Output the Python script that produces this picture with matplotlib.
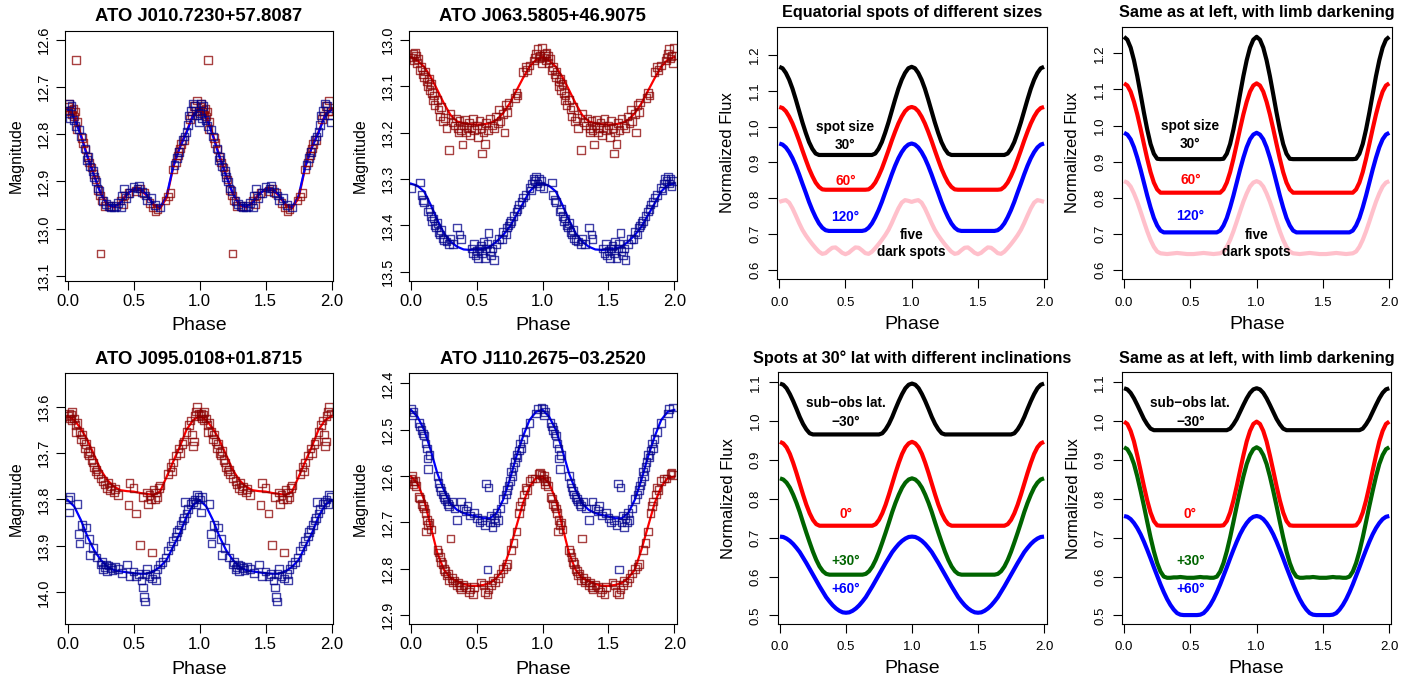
import numpy as np
import matplotlib
matplotlib.use("Agg")
import matplotlib.pyplot as plt

plt.rcParams['font.family'] = ['Liberation Sans', 'DejaVu Sans']

# ---------------- observed light curves (phase, magnitude) ----------------
p1_red = [(0.005,12.742),(0.012,12.735),(0.02,12.752),(0.028,12.748),(0.035,12.758),(0.043,12.745),
          (0.05,12.762),(0.058,12.752),(0.063,12.642),(0.068,12.790),(0.075,12.773),(0.11,12.808),
          (0.118,12.818),(0.135,12.832),(0.15,12.848),(0.162,12.86),(0.18,12.87),(0.195,12.884),
          (0.21,12.896),(0.23,12.918),(0.245,12.93),(0.25,13.053),(0.262,12.94),(0.28,12.952),
          (0.32,12.952),(0.40,12.94),(0.42,12.948),(0.43,12.93),(0.46,12.925),(0.52,12.92),
          (0.55,12.915),(0.58,12.925),(0.62,12.945),(0.645,12.955),(0.665,12.962),(0.68,12.958),
          (0.74,12.94),(0.76,12.932),(0.78,12.925),(0.80,12.875),(0.82,12.86),(0.835,12.845),
          (0.84,12.838),(0.85,12.83),(0.86,12.82),(0.88,12.812),(0.925,12.768),(0.94,12.76),
          (0.955,12.74),(0.97,12.75),(0.98,12.728),(0.99,12.752)]
p1_blue = [(0.003,12.755),(0.01,12.735),(0.015,12.765),(0.03,12.74),(0.045,12.77),(0.06,12.782),
           (0.085,12.79),(0.1,12.805),(0.13,12.83),(0.145,12.855),(0.155,12.848),(0.17,12.868),
           (0.19,12.878),(0.2,12.89),(0.215,12.9),(0.225,12.915),(0.24,12.92),(0.27,12.942),
           (0.29,12.948),(0.31,12.952),(0.33,12.955),(0.35,12.955),(0.365,12.952),(0.38,12.945),
           (0.405,12.955),(0.41,12.93),(0.425,12.915),(0.44,12.935),(0.47,12.925),(0.5,12.912),
           (0.53,12.915),(0.54,12.91),(0.565,12.922),(0.59,12.93),(0.6,12.94),(0.63,12.935),
           (0.66,12.95),(0.7,12.955),(0.81,12.865),(0.83,12.85),(0.845,12.838),(0.87,12.812),
           (0.885,12.805),(0.9,12.795),(0.91,12.78),(0.92,12.76),(0.935,12.75),(0.95,12.735),
           (0.965,12.74),(0.985,12.76),(0.995,12.775)]

p2_red = [(0.01,13.038),(0.02,13.03),(0.025,13.045),(0.03,13.028),(0.04,13.035),(0.045,13.05),
          (0.055,13.042),(0.07,13.065),(0.08,13.058),(0.09,13.075),(0.1,13.08),(0.105,13.068),
          (0.12,13.09),(0.125,13.1),(0.135,13.085),(0.14,13.108),(0.15,13.095),(0.16,13.115),
          (0.165,13.13),(0.175,13.12),(0.18,13.14),(0.2,13.13),(0.21,13.15),(0.22,13.165),
          (0.23,13.145),(0.245,13.175),(0.26,13.168),(0.27,13.19),(0.29,13.237),(0.3,13.16),
          (0.315,13.178),(0.33,13.185),(0.34,13.17),(0.355,13.19),(0.36,13.2),(0.37,13.175),
          (0.38,13.195),(0.39,13.226),(0.4,13.185),(0.41,13.172),(0.42,13.2),(0.43,13.19),
          (0.44,13.178),(0.45,13.205),(0.46,13.19),(0.47,13.17),(0.48,13.195),(0.5,13.185),
          (0.51,13.21),(0.52,13.175),(0.535,13.19),(0.54,13.245),(0.55,13.2),(0.56,13.225),
          (0.57,13.18),(0.585,13.195),(0.6,13.17),(0.615,13.185),(0.63,13.19),(0.645,13.165),
          (0.66,13.18),(0.67,13.15),(0.68,13.175),(0.7,13.16),(0.71,13.2),(0.72,13.14),
          (0.73,13.155),(0.74,13.135),(0.79,13.125),(0.8,13.115),(0.81,13.12),(0.85,13.07),
          (0.87,13.058),(0.88,13.065),(0.9,13.055),(0.935,13.045),(0.94,13.038),(0.95,13.03),
          (0.96,13.02),(0.97,13.04),(0.98,13.035),(0.99,13.05),(0.995,13.018)]
p2_blue = [(0.005,13.32),(0.07,13.308),(0.08,13.335),(0.09,13.345),(0.1,13.35),(0.13,13.37),
           (0.14,13.365),(0.15,13.38),(0.16,13.39),(0.17,13.385),(0.18,13.4),(0.19,13.405),
           (0.2,13.395),(0.21,13.415),(0.22,13.42),(0.23,13.41),(0.24,13.428),(0.25,13.432),
           (0.27,13.435),(0.29,13.44),(0.3,13.43),(0.32,13.44),(0.35,13.405),(0.37,13.42),
           (0.38,13.43),(0.46,13.45),(0.47,13.46),(0.48,13.44),(0.49,13.465),(0.5,13.455),
           (0.51,13.47),(0.52,13.45),(0.525,13.535),(0.53,13.445),(0.54,13.46),(0.55,13.435),
           (0.56,13.47),(0.57,13.45),(0.58,13.44),(0.59,13.416),(0.6,13.455),(0.61,13.465),
           (0.62,13.45),(0.63,13.475),(0.65,13.44),(0.67,13.43),(0.69,13.43),(0.7,13.415),
           (0.72,13.42),(0.73,13.405),(0.74,13.4),(0.75,13.395),(0.76,13.39),(0.78,13.38),
           (0.8,13.37),(0.81,13.365),(0.82,13.355),(0.84,13.35),(0.85,13.34),(0.87,13.335),
           (0.9,13.32),(0.91,13.325),(0.92,13.31),(0.93,13.3),(0.94,13.305),(0.95,13.295),
           (0.96,13.31),(0.97,13.3),(0.98,13.315),(0.99,13.305)]

p5_red = [(0.005,13.62),(0.01,13.615),(0.02,13.625),(0.025,13.618),(0.03,13.63),(0.035,13.612),
          (0.05,13.625),(0.06,13.64),(0.065,13.655),(0.075,13.635),(0.09,13.655),(0.1,13.67),
          (0.11,13.66),(0.12,13.675),(0.13,13.69),(0.14,13.68),(0.15,13.7),(0.16,13.705),
          (0.17,13.695),(0.18,13.715),(0.19,13.72),(0.2,13.73),(0.21,13.74),(0.22,13.735),
          (0.23,13.745),(0.25,13.755),(0.27,13.76),(0.28,13.768),(0.3,13.775),(0.31,13.765),
          (0.32,13.78),(0.33,13.772),(0.35,13.785),(0.36,13.778),(0.38,13.79),(0.46,13.812),
          (0.47,13.765),(0.5,13.775),(0.52,13.83),(0.55,13.898),(0.57,13.795),(0.6,13.785),
          (0.61,13.81),(0.62,13.79),(0.63,13.8),(0.64,13.914),(0.65,13.78),(0.66,13.8),
          (0.67,13.785),(0.68,13.795),(0.69,13.775),(0.7,13.77),(0.76,13.745),(0.78,13.73),
          (0.79,13.74),(0.8,13.72),(0.82,13.705),(0.84,13.69),(0.85,13.7),(0.87,13.68),
          (0.88,13.675),(0.9,13.655),(0.92,13.64),(0.93,13.63),(0.94,13.66),(0.95,13.685),
          (0.955,13.675),(0.96,13.62),(0.97,13.61),(0.98,13.6),(0.99,13.615)]
p5_blue = [(0.003,13.8),(0.008,13.828),(0.02,13.795),(0.075,13.81),(0.085,13.874),(0.09,13.895),
           (0.11,13.855),(0.14,13.86),(0.16,13.885),(0.17,13.92),(0.19,13.905),(0.22,13.925),
           (0.25,13.94),(0.26,13.935),(0.27,13.95),(0.28,13.945),(0.29,13.94),(0.3,13.955),
           (0.31,13.942),(0.33,13.948),(0.34,13.952),(0.36,13.945),(0.38,13.95),(0.41,13.958),
           (0.45,13.94),(0.47,13.965),(0.5,13.955),(0.52,13.966),(0.54,13.96),(0.56,13.975),
           (0.57,13.99),(0.58,14.01),(0.585,14.02),(0.59,13.96),(0.6,13.95),(0.62,13.965),
           (0.64,13.97),(0.66,13.96),(0.67,13.975),(0.68,13.95),(0.7,13.94),(0.72,13.935),
           (0.74,13.925),(0.76,13.91),(0.78,13.9),(0.8,13.89),(0.82,13.88),(0.83,13.87),
           (0.84,13.865),(0.86,13.855),(0.87,13.845),(0.88,13.84),(0.89,13.806),(0.9,13.83),
           (0.91,13.82),(0.93,13.81),(0.95,13.805),(0.96,13.8),(0.97,13.81),(0.98,13.79),
           (0.99,13.795)]

p6_blue = [(0.005,12.455),(0.01,12.468),(0.02,12.462),(0.06,12.485),(0.07,12.493),(0.08,12.5),
           (0.09,12.508),(0.1,12.512),(0.11,12.53),(0.12,12.54),(0.125,12.562),(0.13,12.585),
           (0.14,12.555),(0.2,12.6),(0.21,12.615),(0.22,12.625),(0.23,12.632),(0.24,12.64),
           (0.25,12.645),(0.26,12.65),(0.27,12.655),(0.28,12.66),(0.29,12.665),(0.31,12.655),
           (0.33,12.67),(0.35,12.695),(0.38,12.655),(0.4,12.67),(0.42,12.675),(0.43,12.665),
           (0.45,12.685),(0.48,12.68),(0.5,12.69),(0.52,12.7),(0.54,12.695),(0.56,12.705),
           (0.57,12.616),(0.58,12.802),(0.59,12.625),(0.6,12.7),(0.61,12.685),(0.62,12.71),
           (0.63,12.69),(0.64,12.7),(0.65,12.68),(0.66,12.695),(0.68,12.67),(0.7,12.65),
           (0.72,12.64),(0.73,12.63),(0.74,12.62),(0.75,12.61),(0.76,12.59),(0.77,12.6),
           (0.78,12.58),(0.79,12.57),(0.8,12.555),(0.81,12.56),(0.82,12.545),(0.83,12.53),
           (0.84,12.54),(0.85,12.52),(0.87,12.505),(0.9,12.485),(0.95,12.465),(0.96,12.455),
           (0.99,12.452)]
p6_red = [(0.005,12.605),(0.01,12.6),(0.015,12.612),(0.02,12.618),(0.03,12.61),(0.04,12.622),
          (0.06,12.645),(0.07,12.648),(0.08,12.66),(0.09,12.665),(0.1,12.67),(0.11,12.68),
          (0.115,12.72),(0.12,12.695),(0.13,12.705),(0.14,12.7),(0.15,12.715),(0.2,12.76),
          (0.21,12.765),(0.22,12.775),(0.23,12.785),(0.24,12.79),(0.25,12.8),(0.26,12.805),
          (0.27,12.815),(0.28,12.81),(0.29,12.825),(0.3,12.735),(0.31,12.82),(0.32,12.83),
          (0.33,12.825),(0.35,12.835),(0.36,12.83),(0.37,12.84),(0.38,12.845),(0.4,12.835),
          (0.42,12.84),(0.44,12.85),(0.45,12.845),(0.47,12.856),(0.48,12.84),(0.53,12.83),
          (0.55,12.835),(0.56,12.85),(0.58,12.856),(0.59,12.845),(0.61,12.835),(0.62,12.825),
          (0.64,12.83),(0.66,12.82),(0.68,12.81),(0.7,12.8),(0.72,12.795),(0.73,12.79),
          (0.76,12.76),(0.78,12.745),(0.8,12.72),(0.82,12.68),(0.83,12.665),(0.84,12.655),
          (0.86,12.64),(0.87,12.625),(0.88,12.63),(0.9,12.61),(0.92,12.605),(0.94,12.605),
          (0.97,12.595),(0.98,12.592),(0.99,12.598)]

# fitted curves, sampled every 0.05 in phase (0..1)
fit1_red  = [12.745,12.760,12.800,12.845,12.885,12.925,12.950,12.955,12.945,12.925,12.918,
             12.918,12.930,12.950,12.957,12.935,12.870,12.825,12.795,12.758,12.745]
fit1_blue = [12.748,12.765,12.803,12.848,12.888,12.925,12.948,12.953,12.945,12.928,12.915,
             12.915,12.928,12.948,12.955,12.930,12.868,12.828,12.797,12.760,12.748]
fit2_red  = [13.037,13.045,13.058,13.080,13.108,13.137,13.162,13.176,13.180,13.182,13.183,
             13.182,13.180,13.173,13.158,13.137,13.110,13.083,13.058,13.043,13.037]
fit2_blue = [13.310,13.315,13.327,13.356,13.388,13.417,13.435,13.446,13.452,13.453,13.452,
             13.450,13.446,13.435,13.421,13.403,13.378,13.353,13.327,13.313,13.310]
fit5_red  = [13.620,13.629,13.647,13.672,13.704,13.736,13.758,13.772,13.780,13.782,13.783,
             13.786,13.788,13.790,13.783,13.751,13.718,13.686,13.650,13.629,13.620]
fit5_blue = [13.801,13.815,13.844,13.880,13.909,13.930,13.945,13.952,13.955,13.957,13.959,
             13.960,13.960,13.955,13.945,13.930,13.901,13.873,13.837,13.812,13.801]
fit6_blue = [12.457,12.472,12.500,12.544,12.594,12.630,12.659,12.673,12.680,12.684,12.687,
             12.691,12.691,12.680,12.651,12.608,12.558,12.515,12.479,12.461,12.457]
fit6_red  = [12.601,12.616,12.651,12.709,12.766,12.802,12.820,12.827,12.833,12.837,12.837,
             12.835,12.831,12.820,12.802,12.759,12.709,12.659,12.623,12.604,12.601]

# ---------------- model light curves, sampled every 0.025 in phase (0..1) ----------------
eq_30  = [1.167,1.163,1.150,1.131,1.106,1.076,1.044,1.012,0.983,0.957,0.938,0.925,0.921,0.921,
          0.921,0.921,0.921,0.921,0.921,0.921,0.921,0.921,0.921,0.921,0.921,0.921,0.921,0.921,
          0.921,0.925,0.938,0.957,0.983,1.012,1.044,1.076,1.106,1.131,1.150,1.163,1.167]
eq_60  = [1.055,1.052,1.043,1.028,1.009,0.986,0.961,0.934,0.908,0.883,0.862,0.844,0.832,0.825,
          0.824,0.824,0.824,0.824,0.824,0.824,0.824,0.824,0.824,0.824,0.824,0.824,0.824,0.825,
          0.832,0.844,0.862,0.883,0.908,0.934,0.961,0.986,1.009,1.028,1.043,1.052,1.055]
eq_120 = [0.953,0.950,0.942,0.929,0.912,0.891,0.867,0.841,0.816,0.790,0.767,0.747,0.730,0.718,
          0.711,0.709,0.709,0.709,0.709,0.709,0.709,0.709,0.709,0.709,0.709,0.709,0.711,0.718,
          0.730,0.747,0.767,0.790,0.816,0.841,0.867,0.891,0.912,0.929,0.942,0.950,0.953]
eq_five = [0.790,0.793,0.795,0.788,0.772,0.752,0.731,0.712,0.697,0.684,0.672,0.661,0.651,0.645,
           0.647,0.655,0.662,0.663,0.656,0.648,0.644,0.648,0.656,0.663,0.662,0.655,0.647,0.645,
           0.651,0.661,0.672,0.684,0.697,0.712,0.731,0.752,0.772,0.788,0.795,0.793,0.790]

ld_30  = [1.246,1.238,1.216,1.181,1.137,1.087,1.036,0.989,0.949,0.922,0.908,0.907,0.907,0.907,
          0.907,0.907,0.907,0.907,0.907,0.907,0.907,0.907,0.907,0.907,0.907,0.907,0.907,0.907,
          0.907,0.907,0.908,0.922,0.949,0.989,1.036,1.087,1.137,1.181,1.216,1.238,1.246]
ld_60  = [1.117,1.111,1.094,1.066,1.031,0.991,0.949,0.908,0.871,0.842,0.823,0.814,0.814,0.814,
          0.814,0.814,0.814,0.814,0.814,0.814,0.814,0.814,0.814,0.814,0.814,0.814,0.814,0.814,
          0.814,0.814,0.823,0.842,0.871,0.908,0.949,0.991,1.031,1.066,1.094,1.111,1.117]
ld_120 = [0.980,0.975,0.962,0.940,0.911,0.878,0.842,0.806,0.773,0.744,0.723,0.709,0.704,0.704,
          0.704,0.704,0.704,0.704,0.704,0.704,0.704,0.704,0.704,0.704,0.704,0.704,0.704,0.704,
          0.704,0.709,0.723,0.744,0.773,0.806,0.842,0.878,0.911,0.940,0.962,0.975,0.980]
ld_five = [0.846,0.842,0.831,0.812,0.789,0.762,0.734,0.707,0.683,0.664,0.651,0.646,0.645,0.644,
           0.645,0.646,0.647,0.646,0.645,0.644,0.644,0.644,0.645,0.646,0.647,0.646,0.645,0.644,
           0.645,0.646,0.651,0.664,0.683,0.707,0.734,0.762,0.789,0.812,0.831,0.842,0.846]

inc_m30 = [1.097,1.094,1.085,1.070,1.052,1.032,1.011,0.993,0.979,0.969,0.966,0.966,0.966,0.966,
           0.966,0.966,0.966,0.966,0.966,0.966,0.966,0.966,0.966,0.966,0.966,0.966,0.966,0.966,
           0.966,0.966,0.966,0.969,0.979,0.993,1.011,1.032,1.052,1.070,1.085,1.094,1.097]
inc_0   = [0.947,0.943,0.933,0.916,0.893,0.867,0.839,0.811,0.785,0.763,0.746,0.735,0.731,0.731,
           0.731,0.731,0.731,0.731,0.731,0.731,0.731,0.731,0.731,0.731,0.731,0.731,0.731,0.731,
           0.731,0.735,0.746,0.763,0.785,0.811,0.839,0.867,0.893,0.916,0.933,0.943,0.947]
inc_p30 = [0.853,0.850,0.842,0.829,0.811,0.790,0.766,0.739,0.713,0.688,0.664,0.643,0.626,0.614,
           0.607,0.605,0.605,0.605,0.605,0.605,0.605,0.605,0.605,0.605,0.605,0.605,0.607,0.614,
           0.626,0.643,0.664,0.688,0.713,0.739,0.766,0.790,0.811,0.829,0.842,0.850,0.853]
inc_p60 = [0.703,0.702,0.698,0.692,0.684,0.674,0.663,0.649,0.635,0.620,0.605,0.590,0.575,0.561,
           0.547,0.536,0.526,0.518,0.512,0.508,0.507,0.508,0.512,0.518,0.526,0.536,0.547,0.561,
           0.575,0.590,0.605,0.620,0.635,0.649,0.663,0.674,0.684,0.692,0.698,0.702,0.703]

incld_m30 = [1.085,1.082,1.073,1.059,1.042,1.024,1.006,0.992,0.981,0.977,0.977,0.977,0.977,0.977,
             0.977,0.977,0.977,0.977,0.977,0.977,0.977,0.977,0.977,0.977,0.977,0.977,0.977,0.977,
             0.977,0.977,0.977,0.977,0.981,0.992,1.006,1.024,1.042,1.059,1.073,1.082,1.085]
incld_0   = [0.999,0.993,0.975,0.948,0.912,0.873,0.833,0.796,0.765,0.743,0.732,0.731,0.731,0.731,
             0.731,0.731,0.731,0.731,0.731,0.731,0.731,0.731,0.731,0.731,0.731,0.731,0.731,0.731,
             0.731,0.731,0.732,0.743,0.765,0.796,0.833,0.873,0.912,0.948,0.975,0.993,0.999]
incld_p30 = [0.933,0.928,0.913,0.890,0.858,0.821,0.782,0.741,0.701,0.665,0.635,0.613,0.600,0.597,
             0.597,0.598,0.598,0.599,0.598,0.597,0.597,0.597,0.598,0.599,0.598,0.598,0.597,0.597,
             0.600,0.613,0.635,0.665,0.701,0.741,0.782,0.821,0.858,0.890,0.913,0.928,0.933]
incld_p60 = [0.756,0.754,0.748,0.738,0.725,0.709,0.690,0.669,0.647,0.624,0.602,0.580,0.560,0.542,
             0.527,0.515,0.506,0.502,0.501,0.501,0.501,0.501,0.501,0.502,0.506,0.515,0.527,0.542,
             0.560,0.580,0.602,0.624,0.647,0.669,0.690,0.709,0.725,0.738,0.748,0.754,0.756]

x_ticks = [0.0, 0.5, 1.0, 1.5, 2.0]
x_tick_labels = ["0.0", "0.5", "1.0", "1.5", "2.0"]

DARKRED = '#8B0000'
DARKBLUE = '#00008B'
PINK = '#FFC0CB'
DGREEN = '#006400'

W, H = 1425, 683
fig = plt.figure(figsize=(W / 100, H / 100), dpi=100)


def make_ax(left, top, right, bottom):
    return fig.add_axes([left / W, (H - bottom) / H, (right - left) / W, (bottom - top) / H])


def two_cycles(vals):
    vals = np.asarray(vals, dtype=float)
    g = np.linspace(0, 1, len(vals))
    return np.concatenate([g, g[1:] + 1]), np.concatenate([vals, vals[1:]])


def style(ax, xlim, ylim, yticks, ylab, xfs, yfs, ylabfs, xpad, ypad):
    ax.set_xlim(*xlim)
    ax.set_ylim(*ylim)
    ax.set_xticks(x_ticks)
    ax.set_xticklabels(x_tick_labels, fontsize=xfs)
    ax.set_yticks(yticks)
    ax.set_yticklabels([f"{t:.1f}" for t in yticks], fontsize=yfs, rotation=90, va='center')
    ax.tick_params(direction='out', length=6.5, width=0.8, colors='black')
    ax.tick_params(axis='x', pad=xpad)
    ax.tick_params(axis='y', pad=ypad)
    for s in ax.spines.values():
        s.set_linewidth(0.8)
        s.set_color('black')
    ax.set_xlabel("Phase", fontsize=14)
    ax.set_ylabel(ylab, fontsize=ylabfs)
    ax.xaxis.set_label_coords(0.5, -0.145)
    ax.yaxis.set_label_coords(-0.155, 0.5)


def data_panel(ax, title, reds, blues, fr, fb, xlim, ylim, yticks):
    for f, col in ((fr, 'red'), (fb, 'blue')):
        x, y = two_cycles(f)
        ax.plot(x, y, color=col, lw=1.6, zorder=1)
    for pts, col in ((reds, DARKRED), (blues, DARKBLUE)):
        ph = np.array([p for p, _ in pts])
        mg = np.array([m for _, m in pts])
        ax.scatter(np.concatenate([ph, ph + 1]), np.concatenate([mg, mg]), marker='s', s=30,
                   facecolors='none', edgecolors=col, linewidths=1.0, alpha=0.75, zorder=2)
    style(ax, xlim, ylim, yticks, "Magnitude", 12, 10.5, 11.5, 3, 4)
    ax.set_title(title, fontsize=13.3, fontweight='bold', pad=7)


def model_panel(ax, title, curves, xlim, ylim, yticks, labels):
    for vals, col in curves:
        x, y = two_cycles(vals)
        ax.plot(x, y, color=col, lw=3, solid_capstyle='butt', zorder=2)
    style(ax, xlim, ylim, yticks, "Normalized Flux", 9.5, 9.5, 12, 6, 5)
    ax.set_title(title, fontsize=11.7, fontweight='bold', pad=7)
    for (x, y, s, c) in labels:
        ax.text(x, y, s, color=c, fontsize=9.8, fontweight='bold', ha='center', va='center', zorder=4)


ax1 = make_ax(65, 31, 333, 281)
data_panel(ax1, "ATO J010.7230+57.8087", p1_red, p1_blue, fit1_red, fit1_blue,
           (-0.02, 2.01), (13.111, 12.581), [12.6, 12.7, 12.8, 12.9, 13.0, 13.1])
ax2 = make_ax(409, 31, 676.7, 281)
data_panel(ax2, "ATO J063.5805+46.9075", p2_red, p2_blue, fit2_red, fit2_blue,
           (-0.015, 2.018), (13.52, 12.981), [13.0, 13.1, 13.2, 13.3, 13.4, 13.5])
ax5 = make_ax(65, 373.3, 333, 624.3)
data_panel(ax5, "ATO J095.0108+01.8715", p5_red, p5_blue, fit5_red, fit5_blue,
           (-0.02, 2.01), (14.069, 13.528), [13.6, 13.7, 13.8, 13.9, 14.0])
ax6 = make_ax(409, 373.3, 676.7, 624.3)
data_panel(ax6, "ATO J110.2675\u221203.2520", p6_red, p6_blue, fit6_red, fit6_blue,
           (-0.015, 2.018), (12.92, 12.378), [12.4, 12.5, 12.6, 12.7, 12.8, 12.9])

eq_labels = [(0.5, 1.0, "spot size", 'black'), (0.5, 0.949, "30°", 'black'),
             (0.5, 0.848, "60°", 'red'), (0.5, 0.749, "120°", 'blue'),
             (1.0, 0.698, "five", 'black'), (1.0, 0.651, "dark spots", 'black')]
inc_labels = [(0.5, 1.048, "sub\u2212obs lat.", 'black'), (0.5, 0.999, "\u221230°", 'black'),
              (0.5, 0.76, "0°", 'red'), (0.5, 0.64, "+30°", DGREEN), (0.5, 0.567, "+60°", 'blue')]

ax3 = make_ax(777, 26.7, 1046.7, 279.3)
model_panel(ax3, "Equatorial spots of different sizes",
            [(eq_30, 'black'), (eq_60, 'red'), (eq_120, 'blue'), (eq_five, PINK)],
            (-0.017, 2.02), (0.574, 1.279), [0.6, 0.7, 0.8, 0.9, 1.0, 1.1, 1.2], eq_labels)
ax4 = make_ax(1122.3, 26.7, 1392.3, 279.3)
model_panel(ax4, "Same as at left, with limb darkening",
            [(ld_30, 'black'), (ld_60, 'red'), (ld_120, 'blue'), (ld_five, PINK)],
            (-0.013, 2.023), (0.574, 1.274), [0.6, 0.7, 0.8, 0.9, 1.0, 1.1, 1.2], eq_labels)
ax7 = make_ax(777.7, 372.3, 1046.7, 624)
model_panel(ax7, "Spots at 30° lat with different inclinations",
            [(inc_m30, 'black'), (inc_0, 'red'), (inc_p30, DGREEN), (inc_p60, 'blue')],
            (-0.017, 2.02), (0.478, 1.126), [0.5, 0.6, 0.7, 0.8, 0.9, 1.0, 1.1], inc_labels)
ax8 = make_ax(1122.3, 372.3, 1391, 624)
model_panel(ax8, "Same as at left, with limb darkening",
            [(incld_m30, 'black'), (incld_0, 'red'), (incld_p30, DGREEN), (incld_p60, 'blue')],
            (-0.013, 2.013), (0.478, 1.126), [0.5, 0.6, 0.7, 0.8, 0.9, 1.0, 1.1], inc_labels)

fig.savefig("out.png", dpi=100)
